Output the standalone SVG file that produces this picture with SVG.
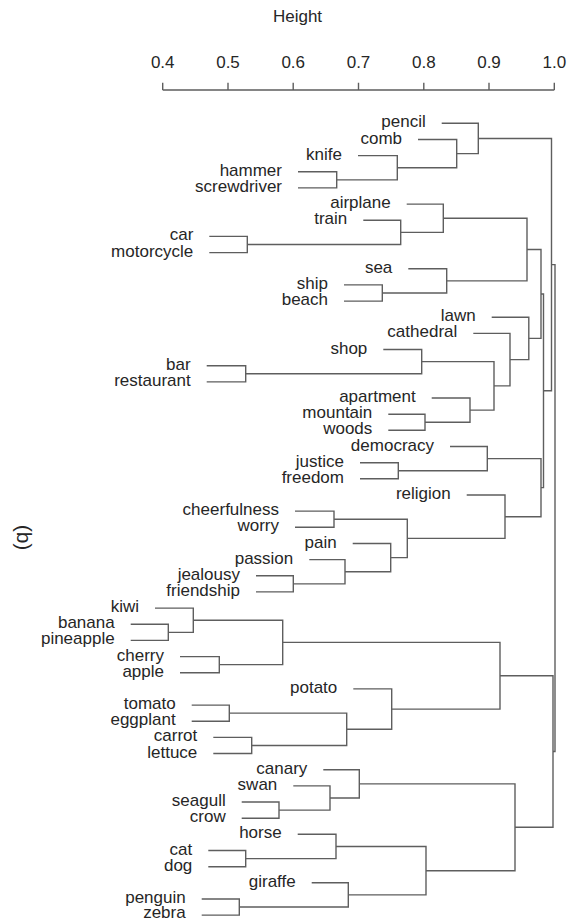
<svg xmlns="http://www.w3.org/2000/svg" width="570" height="920" viewBox="0 0 570 920">
<style>
  text { font-family: "Liberation Sans", Arial, sans-serif; fill: #262626; }
  .lbl { font-size: 17px; text-anchor: end; }
  .tick { font-size: 17px; text-anchor: middle; }
  .ttl { font-size: 17px; text-anchor: middle; }
  .tag { font-size: 21px; text-anchor: middle; dominant-baseline: central; }
  .ln { fill: none; stroke: #5e5e5e; stroke-width: 1.4; }
</style>
<rect width="570" height="920" fill="#ffffff"/>

<!-- height axis -->
<g id="axis">
  <text class="ttl" x="297.5" y="22">Height</text>
  <text class="tick" x="162.7" y="68">0.4</text>
  <text class="tick" x="228.0" y="68">0.5</text>
  <text class="tick" x="293.2" y="68">0.6</text>
  <text class="tick" x="358.5" y="68">0.7</text>
  <text class="tick" x="423.8" y="68">0.8</text>
  <text class="tick" x="489.0" y="68">0.9</text>
  <text class="tick" x="554.3" y="68">1.0</text>
  <path class="ln" d="M162.7,90 H554.3 M162.7,82.7 V90 M228.0,82.7 V90 M293.2,82.7 V90 M358.5,82.7 V90 M423.8,82.7 V90 M489.0,82.7 V90 M554.3,82.7 V90"/>
</g>

<g id="panel-tag">
  <text class="tag" transform="translate(24,537.5) rotate(90)">(b)</text>
</g>

<!-- leaf labels -->
<g id="leaf-pencil"><text class="lbl" x="425.7" y="127.3">pencil</text></g>
<g id="leaf-comb"><text class="lbl" x="402" y="143.5">comb</text></g>
<g id="leaf-knife"><text class="lbl" x="342" y="159.6">knife</text></g>
<g id="leaf-hammer"><text class="lbl" x="282" y="175.8">hammer</text></g>
<g id="leaf-screwdriver"><text class="lbl" x="282" y="191.9">screwdriver</text></g>
<g id="leaf-airplane"><text class="lbl" x="390.7" y="208.1">airplane</text></g>
<g id="leaf-train"><text class="lbl" x="347.3" y="224.3">train</text></g>
<g id="leaf-car"><text class="lbl" x="193.3" y="240.4">car</text></g>
<g id="leaf-motorcycle"><text class="lbl" x="193.3" y="256.6">motorcycle</text></g>
<g id="leaf-sea"><text class="lbl" x="392.3" y="272.7">sea</text></g>
<g id="leaf-ship"><text class="lbl" x="328" y="288.9">ship</text></g>
<g id="leaf-beach"><text class="lbl" x="328" y="305.1">beach</text></g>
<g id="leaf-lawn"><text class="lbl" x="475.7" y="321.2">lawn</text></g>
<g id="leaf-cathedral"><text class="lbl" x="457.3" y="337.4">cathedral</text></g>
<g id="leaf-shop"><text class="lbl" x="367.3" y="353.5">shop</text></g>
<g id="leaf-bar"><text class="lbl" x="190.7" y="369.7">bar</text></g>
<g id="leaf-restaurant"><text class="lbl" x="190.7" y="385.9">restaurant</text></g>
<g id="leaf-apartment"><text class="lbl" x="415.7" y="402">apartment</text></g>
<g id="leaf-mountain"><text class="lbl" x="372.3" y="418.2">mountain</text></g>
<g id="leaf-woods"><text class="lbl" x="372.3" y="434.3">woods</text></g>
<g id="leaf-democracy"><text class="lbl" x="434" y="450.5">democracy</text></g>
<g id="leaf-justice"><text class="lbl" x="344" y="466.7">justice</text></g>
<g id="leaf-freedom"><text class="lbl" x="344" y="482.8">freedom</text></g>
<g id="leaf-religion"><text class="lbl" x="450.7" y="499">religion</text></g>
<g id="leaf-cheerfulness"><text class="lbl" x="279" y="515.1">cheerfulness</text></g>
<g id="leaf-worry"><text class="lbl" x="279" y="531.3">worry</text></g>
<g id="leaf-pain"><text class="lbl" x="336.7" y="547.5">pain</text></g>
<g id="leaf-passion"><text class="lbl" x="293.3" y="563.6">passion</text></g>
<g id="leaf-jealousy"><text class="lbl" x="240" y="579.8">jealousy</text></g>
<g id="leaf-friendship"><text class="lbl" x="240" y="595.9">friendship</text></g>
<g id="leaf-kiwi"><text class="lbl" x="139" y="612.1">kiwi</text></g>
<g id="leaf-banana"><text class="lbl" x="114.7" y="628.3">banana</text></g>
<g id="leaf-pineapple"><text class="lbl" x="114.7" y="644.4">pineapple</text></g>
<g id="leaf-cherry"><text class="lbl" x="164" y="660.6">cherry</text></g>
<g id="leaf-apple"><text class="lbl" x="164" y="676.7">apple</text></g>
<g id="leaf-potato"><text class="lbl" x="337.3" y="692.9">potato</text></g>
<g id="leaf-tomato"><text class="lbl" x="175.7" y="709.1">tomato</text></g>
<g id="leaf-eggplant"><text class="lbl" x="175.7" y="725.2">eggplant</text></g>
<g id="leaf-carrot"><text class="lbl" x="197.3" y="741.4">carrot</text></g>
<g id="leaf-lettuce"><text class="lbl" x="197.3" y="757.5">lettuce</text></g>
<g id="leaf-canary"><text class="lbl" x="307.3" y="773.7">canary</text></g>
<g id="leaf-swan"><text class="lbl" x="277.3" y="789.9">swan</text></g>
<g id="leaf-seagull"><text class="lbl" x="225.7" y="806">seagull</text></g>
<g id="leaf-crow"><text class="lbl" x="225.7" y="822.2">crow</text></g>
<g id="leaf-horse"><text class="lbl" x="281.7" y="838.3">horse</text></g>
<g id="leaf-cat"><text class="lbl" x="192.3" y="854.5">cat</text></g>
<g id="leaf-dog"><text class="lbl" x="192.3" y="870.7">dog</text></g>
<g id="leaf-giraffe"><text class="lbl" x="295.7" y="886.8">giraffe</text></g>
<g id="leaf-penguin"><text class="lbl" x="185.7" y="903">penguin</text></g>
<g id="leaf-zebra"><text class="lbl" x="185.7" y="918.3">zebra</text></g>

<!-- merge brackets: child A horizontal, vertical at merge height, child B horizontal -->
<g id="connectors" class="ln">
  <!-- tools -->
  <path d="M298,171.8 H336.7 V187.9 H298"/>
  <path d="M358,155.6 H397.3 V179.85 H336.7"/>
  <path d="M418,139.5 H456.7 V167.7 H397.3"/>
  <path d="M441.7,123.3 H478.3 V153.6 H456.7"/>
  <!-- vehicles and sea -->
  <path d="M209.3,236.4 H247.3 V252.6 H209.3"/>
  <path d="M363.3,220.3 H400.7 V244.5 H247.3"/>
  <path d="M406.7,204.1 H443.3 V232.4 H400.7"/>
  <path d="M344,284.9 H382.3 V301.1 H344"/>
  <path d="M408.3,268.7 H446.7 V293 H382.3"/>
  <path d="M443.3,218.25 H527 V280.85 H446.7"/>
  <!-- places -->
  <path d="M206.7,365.7 H245.7 V381.9 H206.7"/>
  <path d="M383.3,349.5 H421.7 V373.8 H245.7"/>
  <path d="M388.3,414.2 H425 V430.3 H388.3"/>
  <path d="M431.7,398 H470 V422.25 H425"/>
  <path d="M421.7,361.65 H494 V410.1 H470"/>
  <path d="M473.3,333.4 H510 V385.9 H494"/>
  <path d="M491.7,317.2 H528.8 V359.65 H510"/>
  <path d="M527,249.55 H541 V338.4 H528.8"/>
  <!-- abstract -->
  <path d="M360,462.7 H398.3 V478.8 H360"/>
  <path d="M450,446.5 H487.3 V470.75 H398.3"/>
  <!-- emotions -->
  <path d="M295,511.1 H334 V527.3 H295"/>
  <path d="M256,575.8 H293.3 V591.9 H256"/>
  <path d="M309.3,559.6 H345 V583.85 H293.3"/>
  <path d="M352.7,543.5 H390.7 V571.7 H345"/>
  <path d="M334,519.2 H407.3 V557.6 H390.7"/>
  <path d="M466.7,495 H505 V538.4 H407.3"/>
  <path d="M487.3,458.6 H541 V516.7 H505"/>
  <!-- upper clusters -->
  <path d="M541,293.98 H543.5 V487.65 H541"/>
  <path d="M478.3,138.45 H551.5 V390.8 H543.5"/>
  <!-- fruit and vegetables -->
  <path d="M130.7,624.3 H168.3 V640.4 H130.7"/>
  <path d="M155,608.1 H193.3 V632.35 H168.3"/>
  <path d="M180,656.6 H219.3 V672.7 H180"/>
  <path d="M193.3,620.2 H282.7 V664.65 H219.3"/>
  <path d="M191.7,705.1 H229.3 V721.2 H191.7"/>
  <path d="M213.3,737.4 H251.7 V753.5 H213.3"/>
  <path d="M229.3,713.15 H346.7 V745.45 H251.7"/>
  <path d="M353.3,688.9 H391.7 V729.3 H346.7"/>
  <path d="M282.7,642.4 H500 V709.1 H391.7"/>
  <!-- animals -->
  <path d="M241.7,802 H279 V818.2 H241.7"/>
  <path d="M293.3,785.9 H330 V810.1 H279"/>
  <path d="M323.3,769.7 H359.3 V798 H330"/>
  <path d="M208.3,850.5 H245.7 V866.7 H208.3"/>
  <path d="M297.7,834.3 H336 V858.6 H245.7"/>
  <path d="M201.7,899 H239.3 V915.1 H201.7"/>
  <path d="M311.7,882.8 H348.3 V907.05 H239.3"/>
  <path d="M336,846.45 H426 V894.9 H348.3"/>
  <path d="M359.3,783.85 H515 V870.7 H426"/>
  <!-- lower and top merges -->
  <path d="M500,675.75 H553 V827.3 H515"/>
  <path d="M551.5,264.6 H555 V751.5 H553"/>
</g>
</svg>
